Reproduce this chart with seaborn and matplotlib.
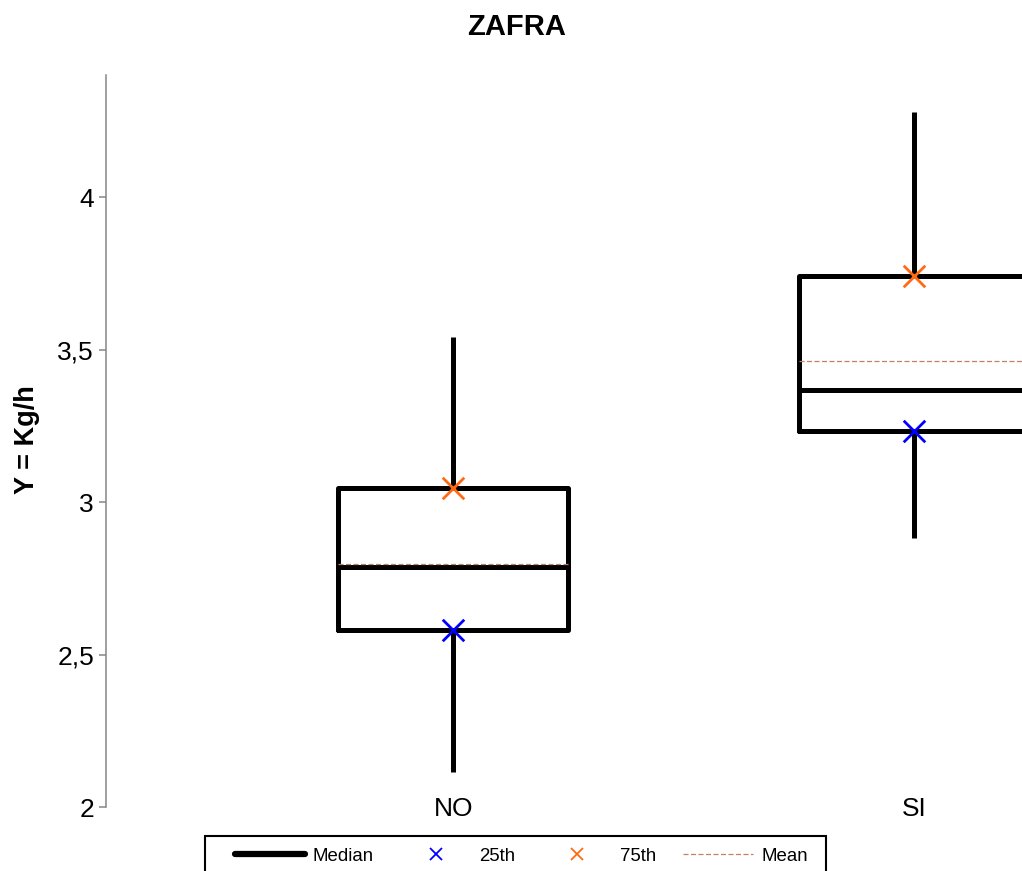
import numpy as np
import pandas as pd
import matplotlib
matplotlib.use("Agg")
import matplotlib.pyplot as plt
from matplotlib.lines import Line2D
from matplotlib.patches import Rectangle
import seaborn as sns

# ---- data ----
categories = ["NO", "SI"]
whisker_low = [2.115, 2.882]
q1 = [2.580, 3.233]
median = [2.787, 3.367]
q3 = [3.046, 3.741]
whisker_high = [3.541, 4.279]
mean = [2.797, 3.462]
ytick_values = [2, 2.5, 3, 3.5, 4]
ytick_labels = ["2", "2,5", "3", "3,5", "4"]
title = "ZAFRA"
ylabel = "Y = Kg/h"

sns.set_style("white")
plt.rcParams["font.family"] = ["Liberation Sans", "DejaVu Sans"]
plt.rcParams["text.color"] = "black"
plt.rcParams["axes.labelcolor"] = "black"
plt.rcParams["xtick.color"] = "black"
plt.rcParams["ytick.color"] = "black"

# five-number summaries as long-form table (quartiles of 5 points fall exactly on them)
rows = []
for i, c in enumerate(categories):
    for v in (whisker_low[i], q1[i], median[i], q3[i], whisker_high[i]):
        rows.append({"grupo": c, "valor": v})
df = pd.DataFrame(rows)

W, H = 1022, 871
fig = plt.figure(figsize=(W / 100, H / 100), dpi=100)
ax = fig.add_axes([106 / W, (H - 807) / H, (W - 106) / W, (807 - 75) / H])

box_width = 0.5
sns.boxplot(data=df, x="grupo", y="valor", order=categories, whis=(0, 100),
            width=box_width, fill=False, color="black", linewidth=3.6,
            showcaps=False, ax=ax)

# mean dashed lines
for i, m in enumerate(mean):
    ax.plot([i - box_width / 2, i + box_width / 2], [m, m], color="#C0806A",
            linestyle=(0, (4, 2)), linewidth=0.9, zorder=5)

# quartile markers
sns.scatterplot(x=categories, y=q1, marker="x", color="#0000FF", s=240,
                linewidth=2.0, ax=ax, zorder=6, legend=False)
sns.scatterplot(x=categories, y=q3, marker="x", color="#FF6A13", s=240,
                linewidth=2.0, ax=ax, zorder=6, legend=False)

ax.set_xlim(-0.753, 1.234)
ax.set_ylim(2, 4.4)
ax.set_yticks(ytick_values)
ax.set_yticklabels(ytick_labels)
ax.set_xlabel("")
ax.set_ylabel("")

for s in ["top", "right", "bottom"]:
    ax.spines[s].set_visible(False)
ax.spines["left"].set_color("#868686")
ax.spines["left"].set_linewidth(1.1)
ax.tick_params(axis="y", which="major", left=True, length=5, width=1.1,
               color="#868686", pad=3.6, labelsize=19, labelcolor="black")
ax.tick_params(axis="x", which="major", bottom=False, length=0, pad=-7.0,
               labelsize=19, labelcolor="black")

fig.text(517 / W, 1 - 27 / H, title, ha="center", va="center",
         fontsize=21, fontweight="bold", color="black")
fig.text(27 / W, 1 - 440 / H, ylabel, ha="center", va="center",
         rotation=90, fontsize=19.5, fontweight="bold", color="black")

# legend
handles = [
    Line2D([], [], color="black", linewidth=4.5, solid_capstyle="round"),
    Line2D([], [], color="#0000FF", marker="x", linestyle="none",
           markersize=9, markeredgewidth=1.3),
    Line2D([], [], color="#FF6A13", marker="x", linestyle="none",
           markersize=9, markeredgewidth=1.3),
    Line2D([], [], color="#C0806A", linestyle=(0, (4, 2)), linewidth=0.9),
]
labels = ["Median", "25th", "75th", "Mean"]
leg = fig.legend(handles, labels, loc="center left",
                 bbox_to_anchor=(235 / W, 1 - 856 / H), ncol=4,
                 frameon=False, fontsize=13.4, handlelength=3.76,
                 handletextpad=0.43, columnspacing=1.45, borderpad=0,
                 borderaxespad=0, labelcolor="black")
fig.patches.append(Rectangle((205 / W, -0.05), (826 - 205) / W,
                             (H - 836) / H + 0.05, transform=fig.transFigure,
                             fill=False, edgecolor="black", linewidth=1.5))

fig.savefig("out.png", dpi=100)
